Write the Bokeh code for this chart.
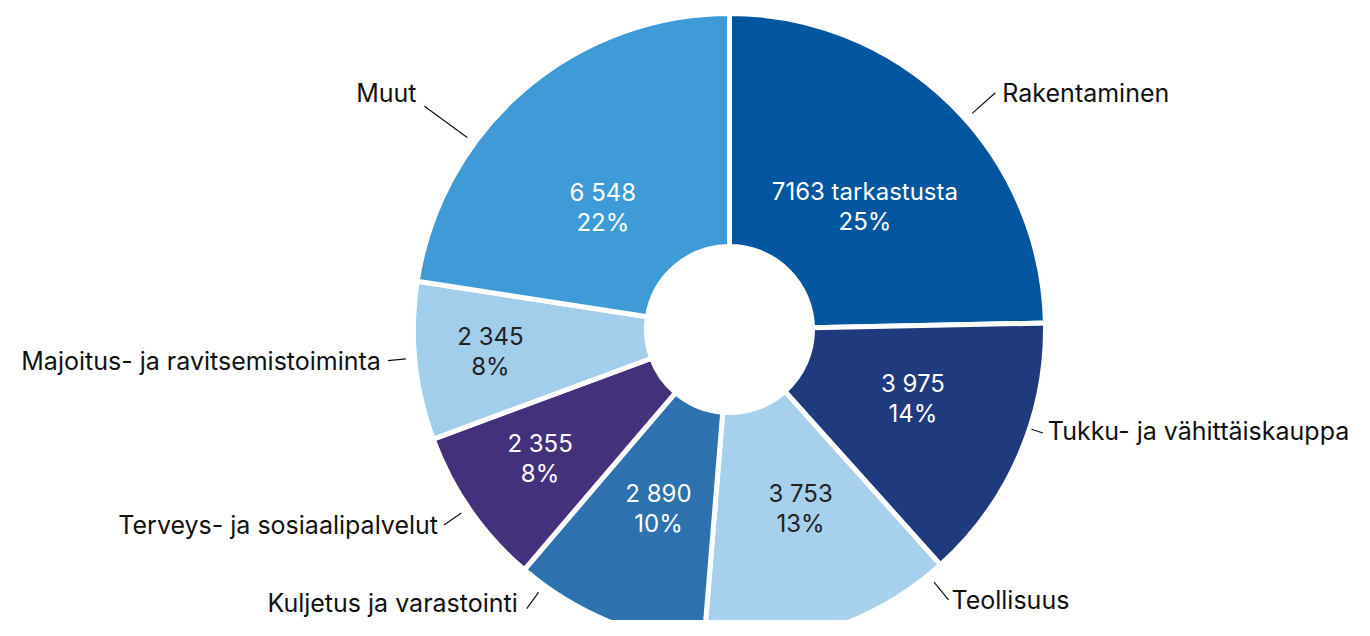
import math
from bokeh.plotting import figure
from bokeh.models import Range1d, ColumnDataSource
from bokeh.embed import file_html
from bokeh.resources import INLINE
from bokeh.core.properties import value

# ---- data ----
categories = ["Rakentaminen", "Tukku- ja vähittäiskauppa", "Teollisuus",
              "Kuljetus ja varastointi", "Terveys- ja sosiaalipalvelut",
              "Majoitus- ja ravitsemistoiminta", "Muut"]
counts = [7163, 3975, 3753, 2890, 2355, 2345, 6548]
value_labels = ["7163 tarkastusta", "3 975", "3 753", "2 890", "2 355", "2 345", "6 548"]
pct_labels = ["25%", "14%", "13%", "10%", "8%", "8%", "22%"]

# ---- style / layout ----
colors = ["#02569f", "#1f3a7d", "#a6d0ec", "#2d72ae", "#43317c", "#a2cdeb", "#3e9bd7"]
inner_text_colors = ["#ffffff", "#ffffff", "#222222", "#ffffff", "#ffffff", "#222222", "#ffffff"]
inner_angle_adj = [3.3, -2.8, -3.0, -1.0, 0.7, 0.6, -5.4]   # degrees vs. mid-angle
inner_radius_lab = [183, 196, 193, 193, 229, 240, 176]
leader_angle_adj = [3.9, -5.2, -20.4, 13.4, 0.5, 0.55, -13.2]
leader_r1 = [325, 318, 325, 325, 325, 325, 325]
leader_r2 = [356, 330, 348, 345, 346, 343, 378]
label_gap = [7, 5, 3, 9, 6, 7, 8]
label_dy = [0, 2, 0, 6, 0, 0, 13]

W, H = 1354, 620
CX, CY = 729, -329
R_OUT, R_IN = 316, 83
FONT = "Inter"

p = figure(width=W, height=H, output_backend="svg", toolbar_location=None,
           x_range=Range1d(0, W), y_range=Range1d(-H, 0),
           x_axis_location=None, y_axis_location=None, min_border=0,
           outline_line_color=None, tools="")
p.grid.visible = False
p.background_fill_color = "white"
p.border_fill_color = "white"

total = float(sum(counts))
starts, ends, mids = [], [], []
acc = 0.0
for c in counts:
    a0 = acc / total * 360.0
    acc += c
    a1 = acc / total * 360.0
    starts.append(a0); ends.append(a1); mids.append((a0 + a1) / 2)

def rad(theta_deg):
    return math.radians(90.0 - theta_deg)

src = ColumnDataSource(dict(
    start=[rad(a) for a in starts],
    end=[rad(a) for a in ends],
    color=colors,
))
p.annular_wedge(x=CX, y=CY, inner_radius=R_IN, outer_radius=R_OUT,
                start_angle="start", end_angle="end", direction="clock",
                fill_color="color", line_color="white", line_width=5, source=src)

def polar(theta_deg, r):
    t = math.radians(theta_deg)
    return CX + r * math.sin(t), CY + r * math.cos(t)

# inner labels
for i in range(len(counts)):
    x, y = polar(mids[i] + inner_angle_adj[i], inner_radius_lab[i])
    p.text(x=[x], y=[y + 15], text=[value_labels[i]], text_align="center",
           text_baseline="middle", text_font=value(FONT), text_font_size="24px",
           text_color=inner_text_colors[i])
    p.text(x=[x], y=[y - 15], text=[pct_labels[i]], text_align="center",
           text_baseline="middle", text_font=value(FONT), text_font_size="24px",
           text_color=inner_text_colors[i])

# outer labels with leader lines
for i in range(len(counts)):
    th = mids[i] + leader_angle_adj[i]
    x1, y1 = polar(th, leader_r1[i])
    x2, y2 = polar(th, leader_r2[i])
    p.line([x1, x2], [y1, y2], line_color="#111111", line_width=1.2)
    right = (th % 360) < 180
    tx = x2 + label_gap[i] if right else x2 - label_gap[i]
    p.text(x=[tx], y=[y2 + label_dy[i]], text=[categories[i]],
           text_align="left" if right else "right", text_baseline="middle",
           text_font=value(FONT), text_font_size="25px", text_color="#111111")

open("out.html", "w").write(file_html(p, INLINE))
